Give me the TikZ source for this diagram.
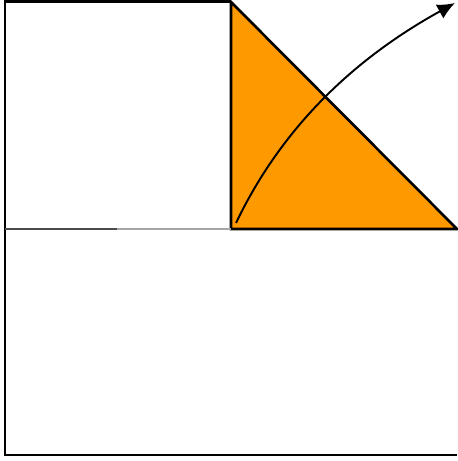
\documentclass[tikz,border=0pt]{standalone}
\usepackage{tikz}
\usetikzlibrary{arrows.meta}
\definecolor{foldorange}{RGB}{255,153,0}

\begin{document}
\begin{tikzpicture}[scale=1]

\useasboundingbox (0,0) rectangle (9.14,9.22);

% Corners
\coordinate (TL) at (0.1,9.18);
\coordinate (BL) at (0.1,0.12);
\coordinate (BR) at (9.14,0.12);
\coordinate (TM) at (4.62,9.18);
\coordinate (C) at (4.62,4.64);
\coordinate (R) at (9.14,4.64);

% Triangle flap
\draw[line width=1.5pt,fill=foldorange,line join=miter] (TM) -- (C) -- (R) -- cycle;

% Outer border
\draw[line width=1.7pt] (TM) -- (TL) -- (BL) -- (BR);

% Middle crease
\draw[line width=0.7pt,black!70] (BL |- C) -- (2.34,4.64);
\draw[line width=0.7pt,black!35] (2.34,4.64) -- (C);

% Fold arrow
\draw[line width=1.1pt,-{Latex[length=10pt,width=9pt]}]
(4.72,4.76) .. controls (5.6,6.6) and (7.0,8.0) .. (9.1,9.16);

\end{tikzpicture}
\end{document}
